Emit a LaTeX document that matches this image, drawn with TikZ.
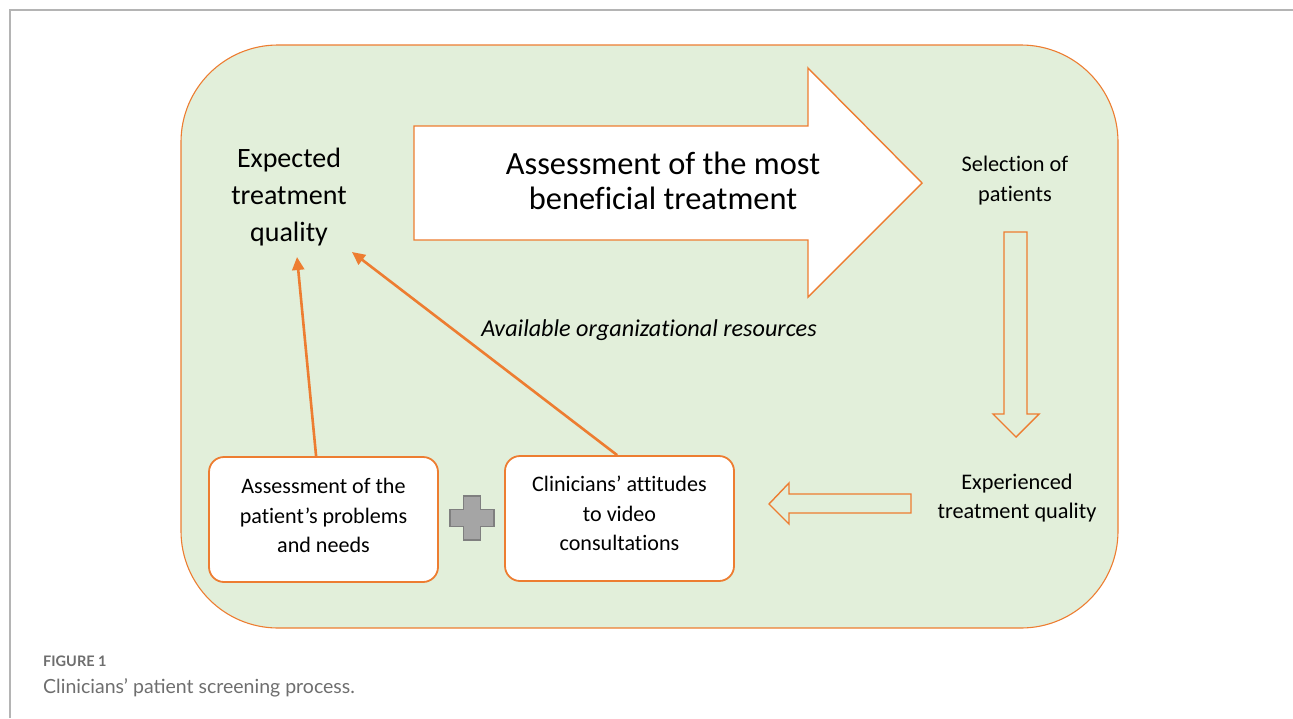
\documentclass[tikz,border=0pt]{standalone}
\usepackage{fontspec}
\setmainfont{Carlito}[Ligatures={NoCommon}]
\newfontfamily\capfont{Lato}
\usetikzlibrary{arrows.meta}
\definecolor{panelgreen}{HTML}{E2EFDA}
\definecolor{accent}{HTML}{ED7D31}
\definecolor{framegray}{HTML}{B4B4B4}
\definecolor{capgray}{HTML}{6E6E6E}
\definecolor{plusfill}{HTML}{A5A5A5}
\definecolor{plusedge}{HTML}{7F7F7F}
\tikzset{
  blockarrow/.style={draw=accent, line width=1.4pt, line join=miter},
  factorbox/.style={draw=accent, line width=1.8pt, fill=white, rounded corners=15pt,
    minimum width=229pt, minimum height=125pt, inner sep=0pt},
  influence/.style={draw=accent, line width=2.6pt, -{Triangle[length=13pt,width=12pt]}},
  label/.style={align=center, inner sep=0pt, text=black},
}
\begin{document}
\begin{tikzpicture}[x=1pt, y=-1pt]
\useasboundingbox (0,0) rectangle (1293,718);
% page frame
\draw[framegray, line width=1.3pt] (10,718) -- (10,10) -- (1293,10);
% green panel
\draw[accent, fill=panelgreen, line width=1.1pt, rounded corners=97pt]
  (181,45) rectangle (1118,628);

% big right arrow
\draw[blockarrow, fill=white]
  (414,126) -- (808,126) -- (808,68) -- (922,183) -- (808,297) -- (808,240) -- (414,240) -- cycle;
\node[label, font=\fontsize{32.4}{35}\selectfont] (assess) at (663,181)
  {Assessment of the most\\beneficial treatment};

% down arrow
\draw[blockarrow]
  (1004,232) -- (1027,232) -- (1027,414) -- (1039,414) -- (1016,437) -- (993,414) -- (1004,414) -- cycle;
% left arrow
\draw[blockarrow]
  (911,494) -- (789,494) -- (789,483) -- (769,504) -- (789,524) -- (789,513) -- (911,513) -- cycle;

% texts
\node[label, font=\fontsize{28}{37}\selectfont] (expected) at (289,197)
  {Expected\\treatment\\quality};
\node[label, font=\fontsize{22.3}{30}\selectfont] (selection) at (1015,181)
  {Selection of\\patients};
\node[label, font=\fontsize{22.3}{29.5}\selectfont] (experienced) at (1017,498)
  {Experienced\\treatment quality};
\node[label, font=\fontsize{24.2}{26}\selectfont\itshape] (resources) at (649,330)
  {Available organizational resources};

% factor boxes
\node[factorbox] (needs) at (323.5,519.5) {};
\node[label, font=\fontsize{22.1}{29.5}\selectfont] (needstext) at ([yshift=4pt]needs.center)
  {Assessment of the\\patient’s problems\\and needs};
\node[factorbox] (attitudes) at (619.5,518.5) {};
\node[label, font=\fontsize{22.1}{29.5}\selectfont] (attitudestext) at ([yshift=5pt]attitudes.center)
  {Clinicians’ attitudes\\to video\\consultations};

% plus sign
\draw[fill=plusfill, draw=plusedge, line width=1.5pt]
  (463.5,496) -- (480.5,496) -- (480.5,509.5) -- (494,509.5) -- (494,526.5) -- (480.5,526.5)
  -- (480.5,540) -- (463.5,540) -- (463.5,526.5) -- (450,526.5) -- (450,509.5) -- (463.5,509.5) -- cycle;

% influence arrows
\coordinate (tipA) at (297,257);
\coordinate (tipB) at (352,252);
\draw[influence] ([xshift=108pt]needs.north west) -- (tipA);
\draw[influence] ([xshift=113pt]attitudes.north west) -- (tipB);

% caption
\node[anchor=base west, inner sep=0pt, text=capgray, font=\capfont\bfseries\fontsize{14.5}{16}\selectfont] (figno) at (43,666) {FIGURE 1};
\node[anchor=base west, inner sep=0pt, text=capgray, font=\capfont\fontsize{19.5}{21}\selectfont] (figcap) at (43,693) {Clinicians’ patient screening process.};
\end{tikzpicture}
\end{document}
